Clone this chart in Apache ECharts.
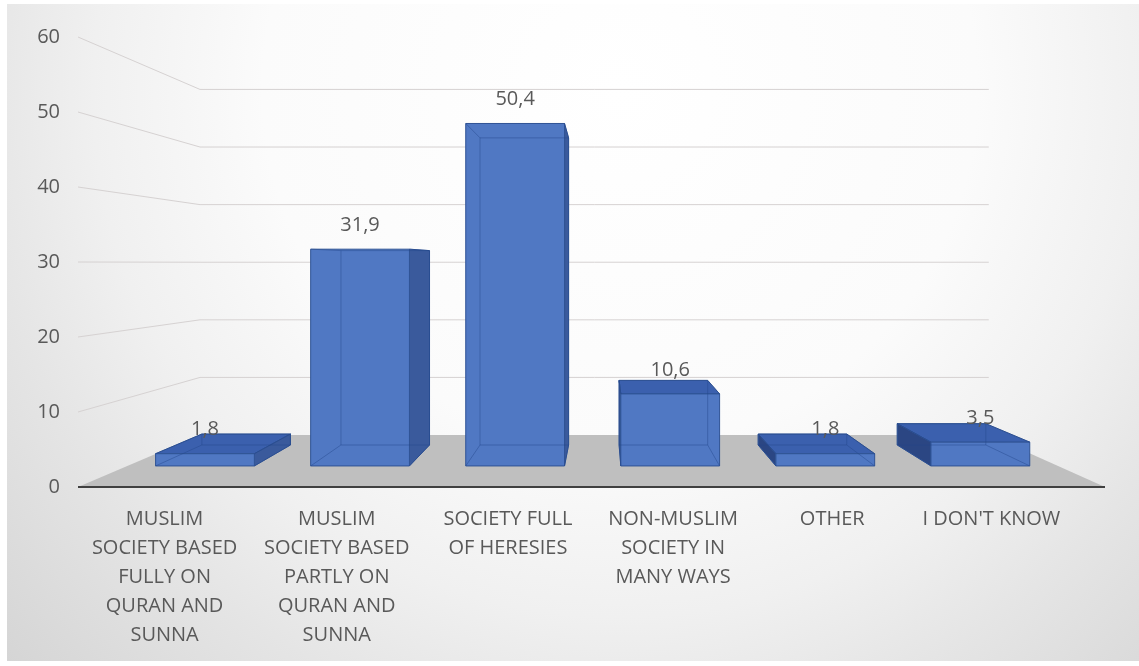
<!DOCTYPE html>
<html>
<head>
<meta charset="utf-8">
<script src="https://cdn.jsdelivr.net/npm/echarts@6/dist/echarts.min.js"></script>
<style>
  html, body { margin: 0; padding: 0; background: #ffffff; }
  #chart { width: 1139px; height: 666px; }
</style>
</head>
<body>
<div id="chart"></div>
<script>
// Survey answers and their shares (%)
const categories = [
  'MUSLIM SOCIETY BASED FULLY ON QURAN AND SUNNA',
  'MUSLIM SOCIETY BASED PARTLY ON QURAN AND SUNNA',
  'SOCIETY FULL OF HERESIES',
  'NON-MUSLIM SOCIETY IN MANY WAYS',
  'OTHER',
  "I DON'T KNOW"
];
const tickLabels = [
  'MUSLIM\nSOCIETY BASED\nFULLY ON\nQURAN AND\nSUNNA',
  'MUSLIM\nSOCIETY BASED\nPARTLY ON\nQURAN AND\nSUNNA',
  'SOCIETY FULL\nOF HERESIES',
  'NON-MUSLIM\nSOCIETY IN\nMANY WAYS',
  'OTHER',
  "I DON'T KNOW"
];
const values = [1.8, 31.9, 50.4, 10.6, 1.8, 3.5];
const yTicks = [0, 10, 20, 30, 40, 50, 60];

// Perspective set-up: the grid is the front plane of the floor; deeper planes
// shrink towards a vanishing point given in (category, value) units.
const PERSP = {
  vpCat: 2.573,
  vpVal: 29.87,
  wall: 0.768,       // back wall / back edge of floor
  barFront: 0.906,   // front faces of the columns
  barBack: 0.8125,   // back faces of the columns
  barWidth: 0.637    // share of a category band
};
// horizontal nudge of each category label (px)
const labelNudge = [1, 2, 2, -4, -16, -28];

const FONT = 'Open Sans';
const TEXT = '#595959';

function vanishing(api) {
  const a = api.coord([0, PERSP.vpVal]);
  const band = api.size([1, 0])[0];
  return [a[0] + band * PERSP.vpCat, a[1]];
}
function project(p, vp, s) {
  return [vp[0] + (p[0] - vp[0]) * s, vp[1] + (p[1] - vp[1]) * s];
}
function fmt(v) { return String(v).replace('.', ','); }

function renderGrid(params, api) {
  const cs = params.coordSys;
  const vp = vanishing(api);
  const y = api.coord([0, api.value(1)])[1];
  const p0 = [cs.x, y];
  const p1 = project(p0, vp, PERSP.wall);
  const p2 = project([cs.x + cs.width, y], vp, PERSP.wall);
  return {
    type: 'polyline',
    shape: { points: [p0, p1, p2] },
    style: { stroke: '#D6D2D2', lineWidth: 1, fill: null }
  };
}

function renderFloor(params, api) {
  const cs = params.coordSys;
  const vp = vanishing(api);
  const y0 = api.coord([0, 0])[1];
  const fl = [cs.x, y0], fr = [cs.x + cs.width, y0];
  const bl = project(fl, vp, PERSP.wall), br = project(fr, vp, PERSP.wall);
  return {
    type: 'group',
    children: [
      { type: 'polygon', shape: { points: [fl, fr, br, bl] }, style: { fill: '#BFBFBF' } },
      { type: 'line', shape: { x1: fl[0], y1: y0, x2: fr[0], y2: y0 }, style: { stroke: '#404040', lineWidth: 2 } }
    ]
  };
}

function renderBar(params, api) {
  const i = api.value(0), v = api.value(1);
  const band = api.size([1, 0])[0];
  const base = api.coord([i, 0]);
  const top = api.coord([i, v]);
  const vp = vanishing(api);
  const hw = band * PERSP.barWidth / 2;
  const xl = base[0] - hw, xr = base[0] + hw, yb = base[1], yt = top[1];
  const f = (x, y) => project([x, y], vp, PERSP.barFront);
  const b = (x, y) => project([x, y], vp, PERSP.barBack);
  const F = { lb: f(xl, yb), rb: f(xr, yb), rt: f(xr, yt), lt: f(xl, yt) };
  const B = { lb: b(xl, yb), rb: b(xr, yb), rt: b(xr, yt), lt: b(xl, yt) };
  const edge = '#2F5395';
  const faces = [];
  const poly = (pts, fill) => ({
    type: 'polygon', shape: { points: pts },
    style: { fill: fill, stroke: edge, lineWidth: 1, lineJoin: 'round' }
  });
  if (yt > vp[1]) faces.push(poly([F.lt, F.rt, B.rt, B.lt], '#3B60AE'));
  if (xr < vp[0]) faces.push(poly([F.rb, F.rt, B.rt, B.rb], '#3A5A9C'));
  if (xl > vp[0]) faces.push(poly([F.lb, F.lt, B.lt, B.lb], '#2B4683'));
  faces.push(poly([F.lb, F.rb, F.rt, F.lt], '#5078C3'));
  // edges seen through the translucent column
  const hidden = [
    [B.lb, B.rb], [B.rb, B.rt], [B.rt, B.lt], [B.lt, B.lb],
    [F.lb, B.lb], [F.rb, B.rb], [F.lt, B.lt], [F.rt, B.rt]
  ].map(([p, q]) => ({
    type: 'line', shape: { x1: p[0], y1: p[1], x2: q[0], y2: q[1] },
    style: { stroke: 'rgba(35,70,140,0.45)', lineWidth: 1 }
  }));
  const label = {
    type: 'text',
    x: (F.lt[0] + F.rt[0]) / 2,
    y: F.lt[1] - 24,
    style: {
      text: fmt(v), fill: TEXT, fontSize: 20, fontFamily: FONT,
      align: 'center', verticalAlign: 'middle'
    }
  };
  return { type: 'group', children: faces.concat(hidden, [label]) };
}

const rich = {};
labelNudge.forEach((n, k) => {
  rich['c' + k] = {
    fontSize: 20, fontFamily: FONT, color: TEXT, lineHeight: 29, align: 'center',
    padding: [0, n < 0 ? -2 * n : 0, 0, n > 0 ? 2 * n : 0]
  };
});

const chart = echarts.init(document.getElementById('chart'), null, { renderer: 'canvas' });
chart.setOption({
  backgroundColor: '#ffffff',
  animation: false,
  graphic: [{
    type: 'rect', z: -100, silent: true,
    shape: { x: 7, y: 4, width: 1132, height: 657 },
    style: {
      fill: new echarts.graphic.RadialGradient(620, 90, 850, [
        { offset: 0, color: '#FFFFFF' },
        { offset: 0.42, color: '#FBFBFB' },
        { offset: 0.62, color: '#F0F0F0' },
        { offset: 0.76, color: '#E5E5E5' },
        { offset: 0.9, color: '#DBDBDB' },
        { offset: 1, color: '#D4D4D4' }
      ], true)
    }
  }],
  grid: { left: 78, right: 34, top: 37, bottom: 179, containLabel: false },
  xAxis: {
    type: 'category',
    data: categories,
    axisLine: { show: false },
    axisTick: { show: false },
    splitLine: { show: false },
    axisLabel: {
      interval: 0,
      margin: 18,
      fontSize: 20, fontFamily: FONT, color: TEXT, lineHeight: 29,
      formatter: (val, idx) => '{c' + idx + '|' + tickLabels[idx] + '}',
      rich: rich
    }
  },
  yAxis: {
    type: 'value',
    min: yTicks[0],
    max: yTicks[yTicks.length - 1],
    interval: 10,
    axisLine: { show: false },
    axisTick: { show: false },
    splitLine: { show: false },
    axisLabel: { margin: 18, fontSize: 20, fontFamily: FONT, color: TEXT }
  },
  series: [
    {
      type: 'custom', name: 'grid', z: 1, silent: true,
      renderItem: renderGrid,
      data: yTicks.filter(t => t > 0).map(t => [0, t])
    },
    {
      type: 'custom', name: 'floor', z: 2, silent: true,
      renderItem: renderFloor,
      data: [[0, 0]]
    },
    {
      type: 'custom', name: 'share', z: 3,
      renderItem: renderBar,
      data: values.map((v, i) => [i, v])
    }
  ]
});
</script>
</body>
</html>
